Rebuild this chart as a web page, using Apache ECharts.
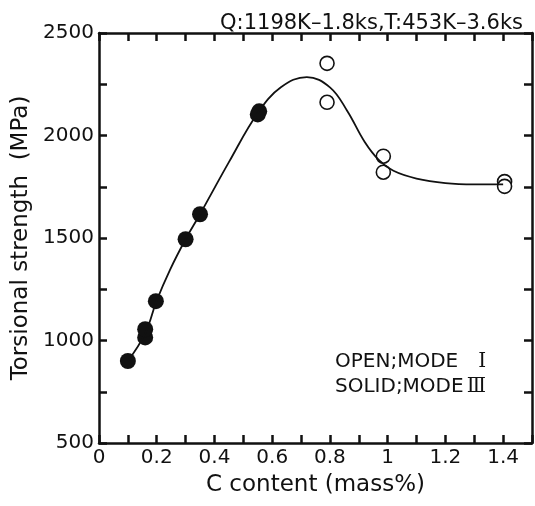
<!DOCTYPE html>
<html>
<head>
<meta charset="utf-8">
<script src="https://cdn.jsdelivr.net/npm/echarts@6/dist/echarts.min.js"></script>
<style>
  html, body { margin: 0; padding: 0; background: #fff; }
  #chart { width: 535px; height: 506px; }
</style>
</head>
<body>
<div id="chart"></div>
<script>
  // tick labels shown on the axes
  const xLabelValues = [0, 0.2, 0.4, 0.6, 0.8, 1, 1.2, 1.4]
  const yLabelValues = [500, 1000, 1500, 2000, 2500]

  // mode III (solid circles)
  const solidPoints = [
    [0.1, 900], [0.16, 1015], [0.16, 1055], [0.197, 1192],
    [0.3, 1494], [0.35, 1616], [0.55, 2103], [0.555, 2118]
  ]
  // mode I (open circles)
  const openPoints = [
    [0.79, 2352], [0.79, 2162], [0.985, 1899], [0.985, 1821],
    [1.405, 1775], [1.405, 1752]
  ]
  // hand drawn trend line
  const curvePoints = [
    [0.1, 900], [0.16, 1035], [0.2, 1195], [0.246, 1345], [0.3, 1494],
    [0.35, 1616], [0.45, 1870], [0.55, 2110], [0.63, 2235], [0.72, 2285],
    [0.8, 2235], [0.86, 2120], [0.92, 1970], [0.97, 1880], [1.02, 1828],
    [1.1, 1790], [1.2, 1768], [1.3, 1762], [1.4, 1762]
  ]

  const FONT = 'DejaVu Sans'
  const INK = '#111'

  const chart = echarts.init(document.getElementById('chart'))

  // onZero off, otherwise the right y axis jumps to x = 0
  const frameLine = { onZero: false, lineStyle: { color: INK, width: 2.5 } }
  const tick = { inside: true, length: 8, lineStyle: { color: INK, width: 2.5 } }

  chart.setOption({
    animation: false,
    title: {
      text: 'Q:1198K–1.8ks,T:453K–3.6ks',
      right: 7,
      top: 8,
      textStyle: { fontFamily: FONT, fontSize: 21, fontWeight: 'normal', color: INK }
    },
    grid: { left: 99, right: 3, top: 33, bottom: 63, containLabel: false },
    xAxis: [
      {
        type: 'value',
        position: 'bottom',
        min: 0,
        max: 1.5,
        interval: 0.1,
        axisLine: frameLine,
        axisTick: tick,
        splitLine: { show: false },
        axisLabel: {
          margin: 5,
          fontFamily: FONT,
          fontSize: 20,
          color: INK,
          formatter: (v) => {
            const r = Math.round(v * 10) / 10
            return xLabelValues.includes(r) ? String(r) : ''
          }
        },
        name: 'C content (mass%)',
        nameLocation: 'middle',
        nameGap: 31,
        nameTextStyle: { fontFamily: FONT, fontSize: 23, color: INK }
      },
      {
        type: 'value',
        position: 'top',
        min: 0,
        max: 1.5,
        interval: 0.1,
        axisLine: frameLine,
        axisTick: tick,
        axisLabel: { show: false },
        splitLine: { show: false }
      }
    ],
    yAxis: [
      {
        type: 'value',
        position: 'left',
        min: 500,
        max: 2500,
        interval: 250,
        axisLine: frameLine,
        axisTick: tick,
        splitLine: { show: false },
        axisLabel: {
          margin: 5,
          fontFamily: FONT,
          fontSize: 20,
          color: INK,
          formatter: (v) => (yLabelValues.includes(v) ? String(v) : '')
        },
        name: 'Torsional strength  (MPa)',
        nameLocation: 'middle',
        nameRotate: 90,
        nameGap: 58,
        nameTextStyle: { fontFamily: FONT, fontSize: 23, color: INK }
      },
      {
        type: 'value',
        position: 'right',
        min: 500,
        max: 2500,
        interval: 250,
        axisLine: frameLine,
        axisTick: tick,
        axisLabel: { show: false },
        splitLine: { show: false }
      }
    ],
    series: [
      {
        name: 'curve',
        type: 'line',
        data: curvePoints,
        smooth: 0.4,
        showSymbol: false,
        lineStyle: { color: INK, width: 1.8 }
      },
      {
        name: 'MODE III',
        type: 'scatter',
        data: solidPoints,
        symbolSize: 16,
        itemStyle: { color: INK, opacity: 1 }
      },
      {
        name: 'MODE I',
        type: 'scatter',
        data: openPoints,
        symbolSize: 14,
        itemStyle: { color: '#fff', borderColor: INK, borderWidth: 1.6, opacity: 1 }
      }
    ],
    graphic: [
      {
        type: 'text',
        left: 335,
        top: 352,
        style: {
          text: '{t|OPEN;MODE}{n|Ⅰ}',
          rich: {
            t: { fontFamily: FONT, fontSize: 20, lineHeight: 24, fill: INK },
            n: { fontFamily: 'DejaVu Serif', fontSize: 20, lineHeight: 24, fill: INK, padding: [0, 0, 0, 20] }
          }
        }
      },
      {
        type: 'text',
        left: 335,
        top: 377,
        style: {
          text: '{t|SOLID;MODE}{n|Ⅲ}',
          rich: {
            t: { fontFamily: FONT, fontSize: 20, lineHeight: 24, fill: INK },
            n: { fontFamily: 'DejaVu Serif', fontSize: 20, lineHeight: 24, fill: INK, padding: [0, 0, 0, 3] }
          }
        }
      }
    ]
  })
</script>
</body>
</html>
